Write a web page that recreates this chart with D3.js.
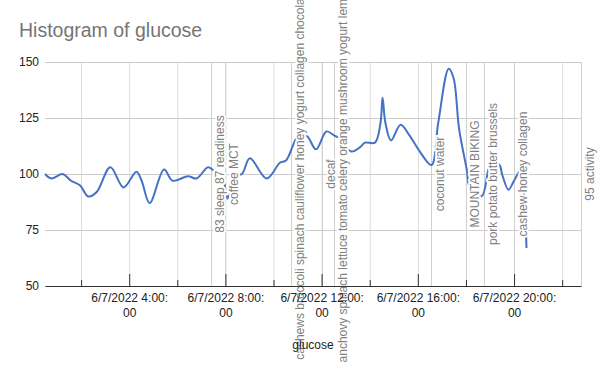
<!DOCTYPE html>
<html>
<head>
<meta charset="utf-8">
<script src="https://cdn.jsdelivr.net/npm/d3@7"></script>
<style>
body { margin: 0; background: #fff; }
text { font-family: "Liberation Sans", Arial, sans-serif; }
</style>
</head>
<body>
<div class="container"></div>
<script>
// glucose readings, 6/7/2022
const times = ["0:30","0:46","1:14","1:35","1:57","2:18","2:39","3:13","3:46","4:18",
  "4:31","4:51","5:27","5:48","6:27","6:48","7:17","7:35","7:51","8:05",
  "8:19","8:41","9:01","9:43","10:16","10:31","11:02","11:23","11:46","12:12",
  "12:33","12:46","13:01","13:15","13:36","13:48","14:13","14:27","14:32","14:39",
  "14:53","15:17","15:40","16:05","16:34","16:51","17:17","17:29","17:43","18:02",
  "18:10","18:39","18:56","19:05","19:24","19:30","19:46","20:00","20:15","20:31"];
const glucose = [100,98,100,97,95,90,92,103,94,101,
  97,87,102,97,99,98,103,101,100,89,
  99,100,107,98,105,106,117,117,111,119,
  117,116,112,110,112,114,114,123,134,123,
  115,122,117,110,104,123,147,143,120,102,
  94,90,102,106,104,100,93,97,101,67];

// annotations
const noteTimes = ["7:23","8:00","10:43","12:00","12:32","16:34","18:00","18:46","20:01","22:47"];
const notes = ["83 sleep 87 readiness","coffee MCT",
  "cashews broccoli spinach cauliflower honey yogurt collagen chocolate","decaf",
  "anchovy spinach lettuce tomato celery orange mushroom yogurt lemon","coconut water",
  "MOUNTAIN BIKING","pork potato butter brussels","cashew honey collagen","95 activity"];

const yTicks = [50, 75, 100, 125, 150];
const majorHours = [4, 8, 12, 16, 20];
const minorHours = [2, 6, 10, 14, 18, 22];
const domainStart = "0:30", domainEnd = "22:47";

const toDate = s => {
  let [h, m] = s.split(':').map(Number);
  return new Date(2022, 5, 7, h, m);
};
const hourDate = h => new Date(2022, 5, 7, h, 0);

let data = times.map((t, i) => ({date: toDate(t), value: glucose[i]}));
let noteData = noteTimes.map((t, i) => ({date: toDate(t), text: notes[i]}));

let outerWidth = 600, outerHeight = 371;
let margin = {top: 62, right: 19, bottom: 85, left: 45};
let width = outerWidth - margin.left - margin.right,
    height = outerHeight - margin.top - margin.bottom;

let svg = d3.select('.container').append('svg')
  .attr('width', outerWidth)
  .attr('height', outerHeight);

svg.append('text')
  .attr('x', 19)
  .attr('y', 37)
  .style('font-size', '19.5px')
  .attr('fill', '#757575')
  .text('Histogram of glucose');

let group = svg.append('g')
  .attr('transform', `translate(${margin.left},${margin.top})`);

let x = d3.scaleTime()
  .domain([toDate(domainStart), toDate(domainEnd)])
  .range([0, width]);

let y = d3.scaleLinear()
  .domain([50, 150])
  .range([height, 0]);

// gridlines
let gridX = group.append('g')
  .attr('transform', `translate(0,${height})`)
  .call(d3.axisBottom(x)
    .tickValues(majorHours.concat(minorHours).map(hourDate))
    .tickSize(-height).tickFormat(''));
gridX.select('.domain').remove();
gridX.selectAll('line').attr('stroke', '#dcdcdc');

let gridY = group.append('g')
  .call(d3.axisLeft(y).tickValues(yTicks).tickSize(-width).tickFormat(''));
gridY.select('.domain').remove();
gridY.selectAll('line').attr('stroke', '#cccccc');

// annotation lines
group.selectAll('.note-line')
  .data(noteData)
  .enter()
  .append('line')
  .attr('class', 'note-line')
  .attr('x1', d => Math.round(x(d.date)) + 0.5)
  .attr('x2', d => Math.round(x(d.date)) + 0.5)
  .attr('y1', 0)
  .attr('y2', height)
  .attr('stroke', '#d0d0d0');

// y labels
let yAxis = group.append('g')
  .call(d3.axisLeft(y).tickValues(yTicks).tickSize(0).tickPadding(6));
yAxis.select('.domain').remove();
yAxis.selectAll('text')
  .style('font-size', '12px')
  .attr('fill', '#222');

// glucose line
let line = d3.line()
  .x(d => x(d.date))
  .y(d => y(d.value))
  .curve(d3.curveCatmullRom.alpha(0.5));

group.append('path')
  .datum(data)
  .attr('fill', 'none')
  .attr('stroke', '#4472c4')
  .attr('stroke-width', 2)
  .attr('d', line);

// annotation texts with white aura
group.selectAll('.note')
  .data(noteData)
  .enter()
  .append('text')
  .attr('class', 'note')
  .attr('transform', d => `translate(${x(d.date) + 13},${height / 2}) rotate(-90)`)
  .attr('text-anchor', 'middle')
  .style('font-size', '12px')
  .attr('fill', '#808080')
  .attr('stroke', '#fff')
  .attr('stroke-width', 4)
  .attr('stroke-linejoin', 'round')
  .attr('paint-order', 'stroke')
  .text(d => d.text);

// x axis: minor ticks (drawn over the annotations)
let xMinor = group.append('g')
  .attr('transform', `translate(0,${height})`)
  .call(d3.axisBottom(x).tickValues(minorHours.map(hourDate))
    .tickSize(-6).tickSizeOuter(0).tickFormat(''));
xMinor.selectAll('line').attr('stroke', '#333');
xMinor.select('.domain').attr('stroke', '#333');

// x axis: labelled ticks
let xAxis = group.append('g')
  .attr('transform', `translate(0,${height})`)
  .call(d3.axisBottom(x).tickValues(majorHours.map(hourDate))
    .tickSize(-12).tickSizeOuter(0));
xAxis.select('.domain').remove();
xAxis.selectAll('line').attr('stroke', '#333');
xAxis.selectAll('text')
  .style('font-size', '12px')
  .attr('fill', '#222')
  .attr('y', 0)
  .attr('dy', null)
  .each(function(d) {
    let t = d3.select(this).text('');
    t.append('tspan').attr('x', 0).attr('y', 16).text(`6/7/2022 ${d.getHours()}:00:`);
    t.append('tspan').attr('x', 0).attr('y', 31).text('00');
  });

group.append('text')
  .attr('x', width / 2)
  .attr('y', height + 63)
  .attr('text-anchor', 'middle')
  .style('font-size', '12px')
  .attr('fill', '#222')
  .text('glucose');
</script>
</body>
</html>
